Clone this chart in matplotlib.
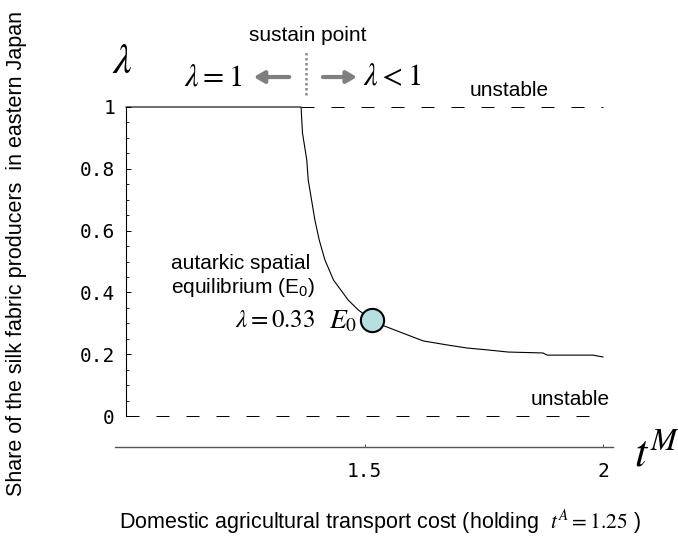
import numpy as np
from matplotlib import pyplot as plt
from matplotlib.ticker import FixedLocator

plt.rcParams['font.family'] = ['Liberation Sans', 'DejaVu Sans']
plt.rcParams['mathtext.fontset'] = 'stix'

# curve: transport cost t^M vs share lambda
t_m = [1.0, 1.367, 1.370, 1.379, 1.382, 1.389, 1.396, 1.405, 1.417, 1.435,
       1.466, 1.487, 1.516, 1.537, 1.579, 1.623, 1.673, 1.715, 1.757, 1.801,
       1.874, 1.883, 1.979, 2.0]
share = [1.0, 1.0, 0.916, 0.828, 0.764, 0.699, 0.634, 0.570, 0.505, 0.440,
         0.375, 0.343, 0.311, 0.294, 0.269, 0.243, 0.230, 0.220, 0.214, 0.207,
         0.204, 0.197, 0.197, 0.191]

sustain_t = 1.377
e0_t, e0_share = 1.516, 0.311
x_ticks = [1.5, 2]
x_ticklabels = ['1.5', '2']
y_ticks = [0, 0.2, 0.4, 0.6, 0.8, 1]
y_ticklabels = ['0', '0.2', '0.4', '0.6', '0.8', '1']

W, H = 678, 538
fig = plt.figure(figsize=(W / 100, H / 100), dpi=100)
# pixel frame: x=1 at 126px, 477 px/unit ; y=0 at 416px, 309 px/unit
x0, x1 = 0.97, 2.03
y0, y1 = -0.12, 1.02
left = 126 + (x0 - 1) * 477
right = 126 + (x1 - 1) * 477
bottom = 416 - y0 * 309
top = 416 - y1 * 309
ax = fig.add_axes([left / W, 1 - bottom / H, (right - left) / W, (bottom - top) / H])
ax.set_xlim(x0, x1)
ax.set_ylim(y0, y1)

# stable branch
ax.plot(t_m, share, color='black', lw=0.8, zorder=3)
# unstable branches
ax.plot([t_m[1], 2.0], [1, 1], color='black', lw=0.72, dashes=(13, 17))
ax.plot([1.0, 2.0], [0, 0], color='black', lw=0.72, dashes=(13, 17))

# E0 point
ax.scatter([e0_t], [e0_share], s=280, facecolor='#b5dfe1', edgecolor='black',
           linewidth=1.5, zorder=5)

# axes styling
for s in ['top', 'right']:
    ax.spines[s].set_visible(False)
ax.spines['left'].set_position(('data', 1.0))
ax.spines['left'].set_bounds(0, 1)
ax.spines['left'].set_linewidth(0.8)
ax.spines['bottom'].set_position(('data', -0.1))
ax.spines['bottom'].set_bounds(0.977, 2.022)
ax.spines['bottom'].set_color('#555555')
ax.spines['bottom'].set_linewidth(1.0)

ax.set_yticks(y_ticks)
ax.set_yticklabels(y_ticklabels, family='DejaVu Sans Mono', fontsize=14)
ax.yaxis.set_minor_locator(FixedLocator(np.arange(0, 1.001, 0.05)))
ax.tick_params(axis='y', which='major', direction='in', length=3.6, width=0.7, pad=8)
ax.tick_params(axis='y', which='minor', direction='in', length=2, width=0.6)
ax.set_xticks(x_ticks)
ax.set_xticklabels(x_ticklabels, family='DejaVu Sans Mono', fontsize=14)
ax.tick_params(axis='x', direction='in', length=2.5, width=0.7, color='#555555', pad=11)

# annotations
ax.text(0.992, 1.146, r'$\lambda$', fontsize=30, ha='center', va='center')
ax.text(1.182, 1.097, r'$\lambda = 1$', fontsize=22, ha='center', va='center')
ax.text(1.558, 1.097, r'$\lambda < 1$', fontsize=22, ha='center', va='center')
ax.annotate('', xy=(1.262, 1.097), xytext=(1.348, 1.097), annotation_clip=False,
            arrowprops=dict(arrowstyle='-|>,head_length=0.6,head_width=0.35',
                            color='#7f7f7f', lw=3))
ax.annotate('', xy=(1.490, 1.097), xytext=(1.407, 1.097), annotation_clip=False,
            arrowprops=dict(arrowstyle='-|>,head_length=0.6,head_width=0.35',
                            color='#7f7f7f', lw=3))
ax.plot([sustain_t, sustain_t], [1.039, 1.184], color='#8c8c8c', lw=1.8,
        linestyle=(0, (1, 1)), clip_on=False)
ax.text(1.382, 1.232, 'sustain point', fontsize=15, ha='center', va='center')
ax.text(1.721, 1.052, 'unstable', fontsize=15, ha='left', va='center')
ax.text(2.015, 0.055, 'unstable', fontsize=15, ha='right', va='center')
ax.text(1.094, 0.495, 'autarkic spatial', fontsize=15, ha='left', va='center')
ax.text(1.094, 0.417, r'equilibrium ($\mathregular{E_0}$)', fontsize=15, ha='left', va='center')
ax.text(1.396, 0.311, r'$\lambda = 0.33$', fontsize=18, ha='right', va='center')
ax.text(1.426, 0.306, r'$E_0$', fontsize=20, ha='left', va='center')
ax.text(2.064, -0.16, r'$t^M$', fontsize=32, ha='left', va='baseline')

fig.text(17 / W, 1 - 253 / H, 'Share of the silk fabric producers  in eastern Japan',
         rotation=90, fontsize=15.5, ha='center', va='center')
fig.text(380 / W, 1 - 522 / H,
         r'Domestic agricultural transport cost (holding  $t^A = 1.25$ )',
         fontsize=15.5, ha='center', va='center')

fig.savefig('out.png', dpi=100)
